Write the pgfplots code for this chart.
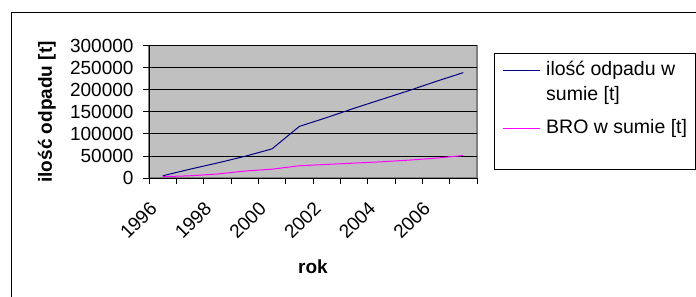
\documentclass[border=0pt]{standalone}
\usepackage{fontspec}
\setmainfont{Liberation Sans}
\usepackage{pgfplots}
\pgfplotsset{compat=1.18}
\definecolor{plotgray}{RGB}{192,192,192}
\definecolor{bordergray}{RGB}{128,128,128}
\definecolor{navyline}{RGB}{0,0,128}
\definecolor{magline}{RGB}{255,0,255}
\begin{document}
\begin{tikzpicture}[x=1pt,y=1pt]
\useasboundingbox (0,0) rectangle (696,297);
\fill[white] (0,0) rectangle (696,297);
% outer chart frame
\draw[black, line width=1.4pt] (11.5,-5) -- (11.5,284.3) -- (701,284.3);
% legend frame
\draw[black, line width=0.8pt] (494,244) rectangle (695.5,128);
\begin{axis}[
  at={(149pt,119pt)}, anchor=south west,
  scale only axis, width=328pt, height=132.3pt,
  xmin=-0.5, xmax=11.5, ymin=0, ymax=300000,
  axis x line*=bottom, axis y line*=left,
  axis line style={black, line width=0.8pt},
  axis background/.style={fill=plotgray, draw=bordergray, line width=1.2pt},
  tick align=outside, major tick length=6pt,
  tick style={black, line width=0.8pt},
  xtick={-0.5,0.5,...,11.5}, xticklabels=\empty,
  extra x ticks={0,2,4,6,8,10},
  extra x tick labels={1996,1998,2000,2002,2004,2006},
  extra x tick style={major tick length=0pt, grid=none},
  xticklabel style={xshift=-14pt, yshift=-21pt, rotate=45, anchor=north east, inner sep=1pt},
  yticklabel style={xshift=-6pt},
  ytick={0,50000,...,300000},
  scaled y ticks=false,
  /pgf/number format/.cd, fixed, set thousands separator={}, assume math mode=true,
  /pgfplots/.cd,
  ymajorgrids, major grid style={black, line width=0.8pt},
  tick label style={font=\fontsize{19}{22}\selectfont},
  every axis y label/.style={at={(rel axis cs:0,0.5)}, xshift=-102pt, rotate=90, anchor=center, font=\fontsize{19}{22}\selectfont\bfseries},
  every axis x label/.style={at={(rel axis cs:0.5,0)}, yshift=-89pt, anchor=center, font=\fontsize{19}{22}\selectfont\bfseries},
  ylabel={ilość odpadu [t]},
  xlabel={rok},
  legend cell align=left,
  legend style={at={(1.07622,0.8919)}, anchor=north west, draw=none, fill=none,
    inner sep=0pt, row sep=4pt, column sep=6pt,
    cells={anchor=base west},
    nodes={inner sep=0pt, text height=15pt, text depth=6pt, font=\fontsize{19.5}{22}\selectfont}},
  legend image code/.code={\draw[#1, line width=1pt] (0pt,5pt) -- (37pt,5pt);},
]
\addplot[navyline, line width=1pt] coordinates {
 (0,5000) (1,20000) (2,34000) (3,49000) (4,66000) (5,117000)
 (6,137000) (7,158000) (8,178000) (9,198000) (10,219000) (11,239000)};
\addlegendentry{ilość odpadu w}
\addlegendimage{empty legend}
\addlegendentry[text depth=14pt]{sumie [t]}
\addplot[magline, line width=1pt] coordinates {
 (0,3000) (1,5000) (2,9000) (3,15700) (4,20000) (5,27700)
 (6,30800) (7,33800) (8,36700) (9,40500) (10,45000) (11,51000)};
\addlegendentry{BRO w sumie [t]}
\end{axis}
\end{tikzpicture}
\end{document}
